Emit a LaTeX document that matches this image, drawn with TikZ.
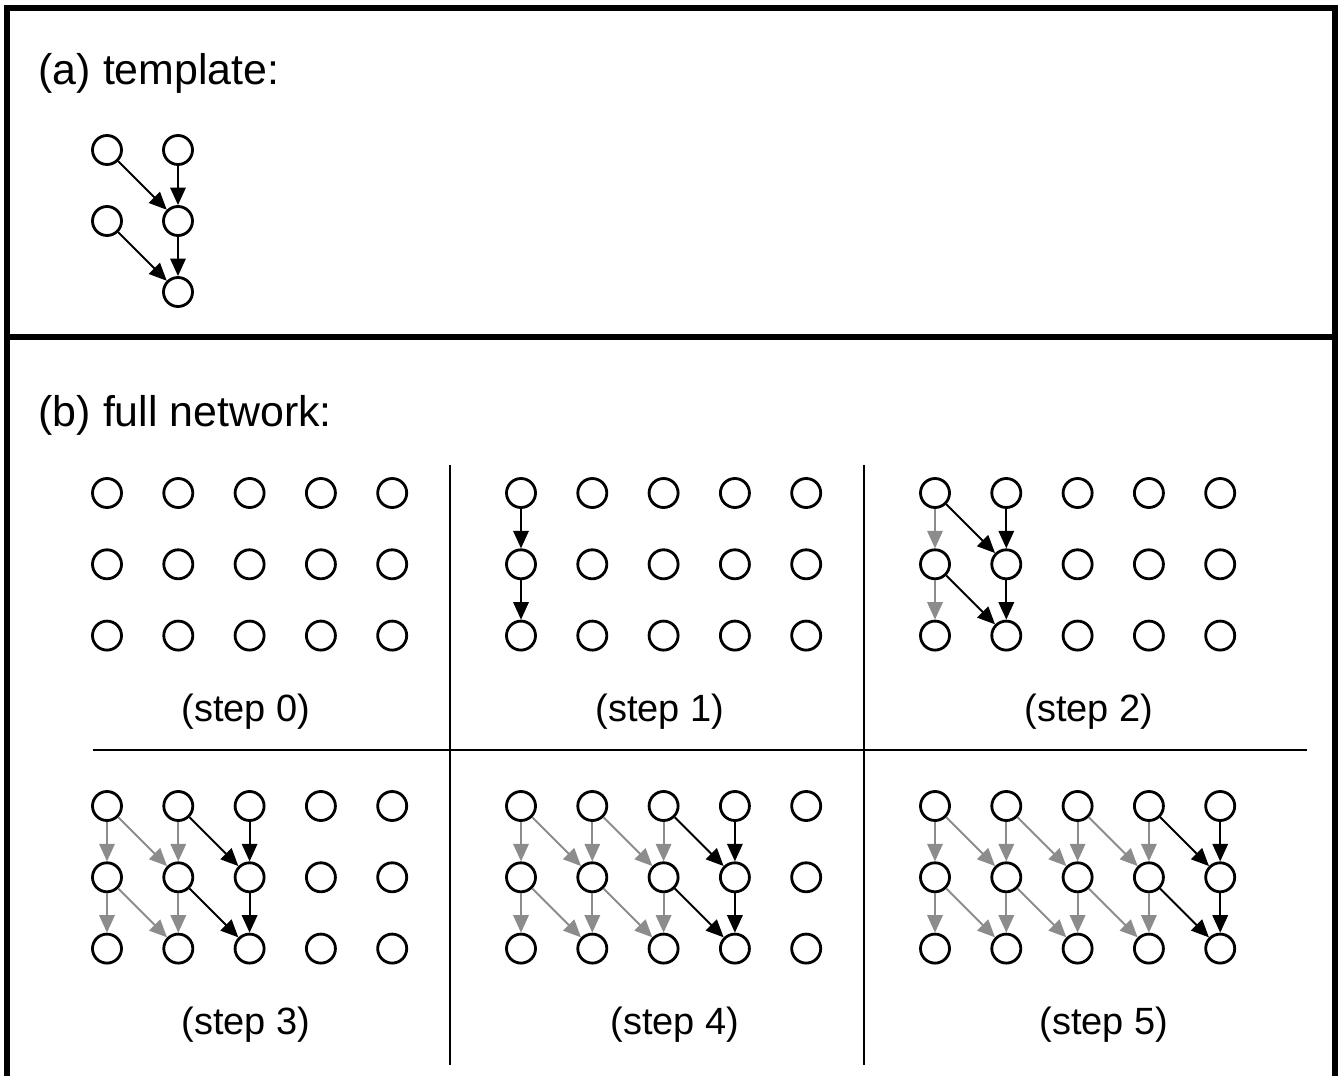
\documentclass[tikz,border=0pt]{standalone}
\usepackage{fontspec}
\setmainfont{Liberation Sans}
\usetikzlibrary{arrows.meta}

\begin{document}
\begin{tikzpicture}[x=0.01cm, y=-0.01cm,
  unit/.style={draw, circle, minimum size=0.29cm, inner sep=0pt, line width=0.8pt},
  link/.style={-{Triangle[length=5pt, width=4.4pt]}, line width=0.55pt, black},
  oldlink/.style={link, black!45},
  frame/.style={line width=1.5pt},
  sep/.style={line width=0.45pt},
  title/.style={anchor=base west, inner sep=0pt, font=\fontsize{12.2}{14}\selectfont},
  caption/.style={inner sep=0pt, font=\fontsize{10.8}{13}\selectfont}
]
  \useasboundingbox (0,0) rectangle (1339,1076);

  % outer frame (open at the bottom) and the panel divider
  \draw[frame] (7,1090) -- (7,8) -- (1335,8) -- (1335,1090);
  \draw[frame, line width=1.8pt] (7,337) -- (1335,337);

  % (a) template
  \node[title] (ta) at (38,85) {(a) template:};
  \node[unit] (t1) at (107,150) {};
  \node[unit] (t2) at (178,150) {};
  \node[unit] (t3) at (107,221) {};
  \node[unit] (t4) at (178,221) {};
  \node[unit] (t5) at (178,292) {};
  \draw[link] (t1) -- (t4);
  \draw[link] (t2) -- (t4);
  \draw[link] (t3) -- (t5);
  \draw[link] (t4) -- (t5);

  % (b) full network, one grid per step
  \node[title] (tb) at (38,426) {(b) full network:};
  \draw[sep] (450,465) -- (450,1065);
  \draw[sep] (864,465) -- (864,1065);
  \draw[sep] (93,750) -- (1307,750);

  \foreach \s/\px/\py/\lx/\ly in {0/107/493/246/712, 1/521/493/660/712, 2/935/493/1089/712,
                                  3/107/806/246/1025, 4/521/806/675/1025, 5/935/806/1104/1025} {
    \foreach \c in {1,...,5}
      \foreach \r in {1,2,3}
        \node[unit] (n\s-\c-\r) at ({\px+(\c-1)*71.3},{\py+(\r-1)*71.3}) {};
    \node[caption] (cap\s) at (\lx,\ly) {(step \s)};
  }

  % links added so far; the newest column is black
  \foreach \s in {1,...,5}
    \foreach \c in {1,...,\s} {
      \ifnum\c=\s \def\sty{link}\else \def\sty{oldlink}\fi
      \draw[\sty] (n\s-\c-1) -- (n\s-\c-2);
      \draw[\sty] (n\s-\c-2) -- (n\s-\c-3);
      \ifnum\c>1
        \pgfmathtruncatemacro\p{\c-1}
        \draw[\sty] (n\s-\p-1) -- (n\s-\c-2);
        \draw[\sty] (n\s-\p-2) -- (n\s-\c-3);
      \fi
    }
\end{tikzpicture}
\end{document}
